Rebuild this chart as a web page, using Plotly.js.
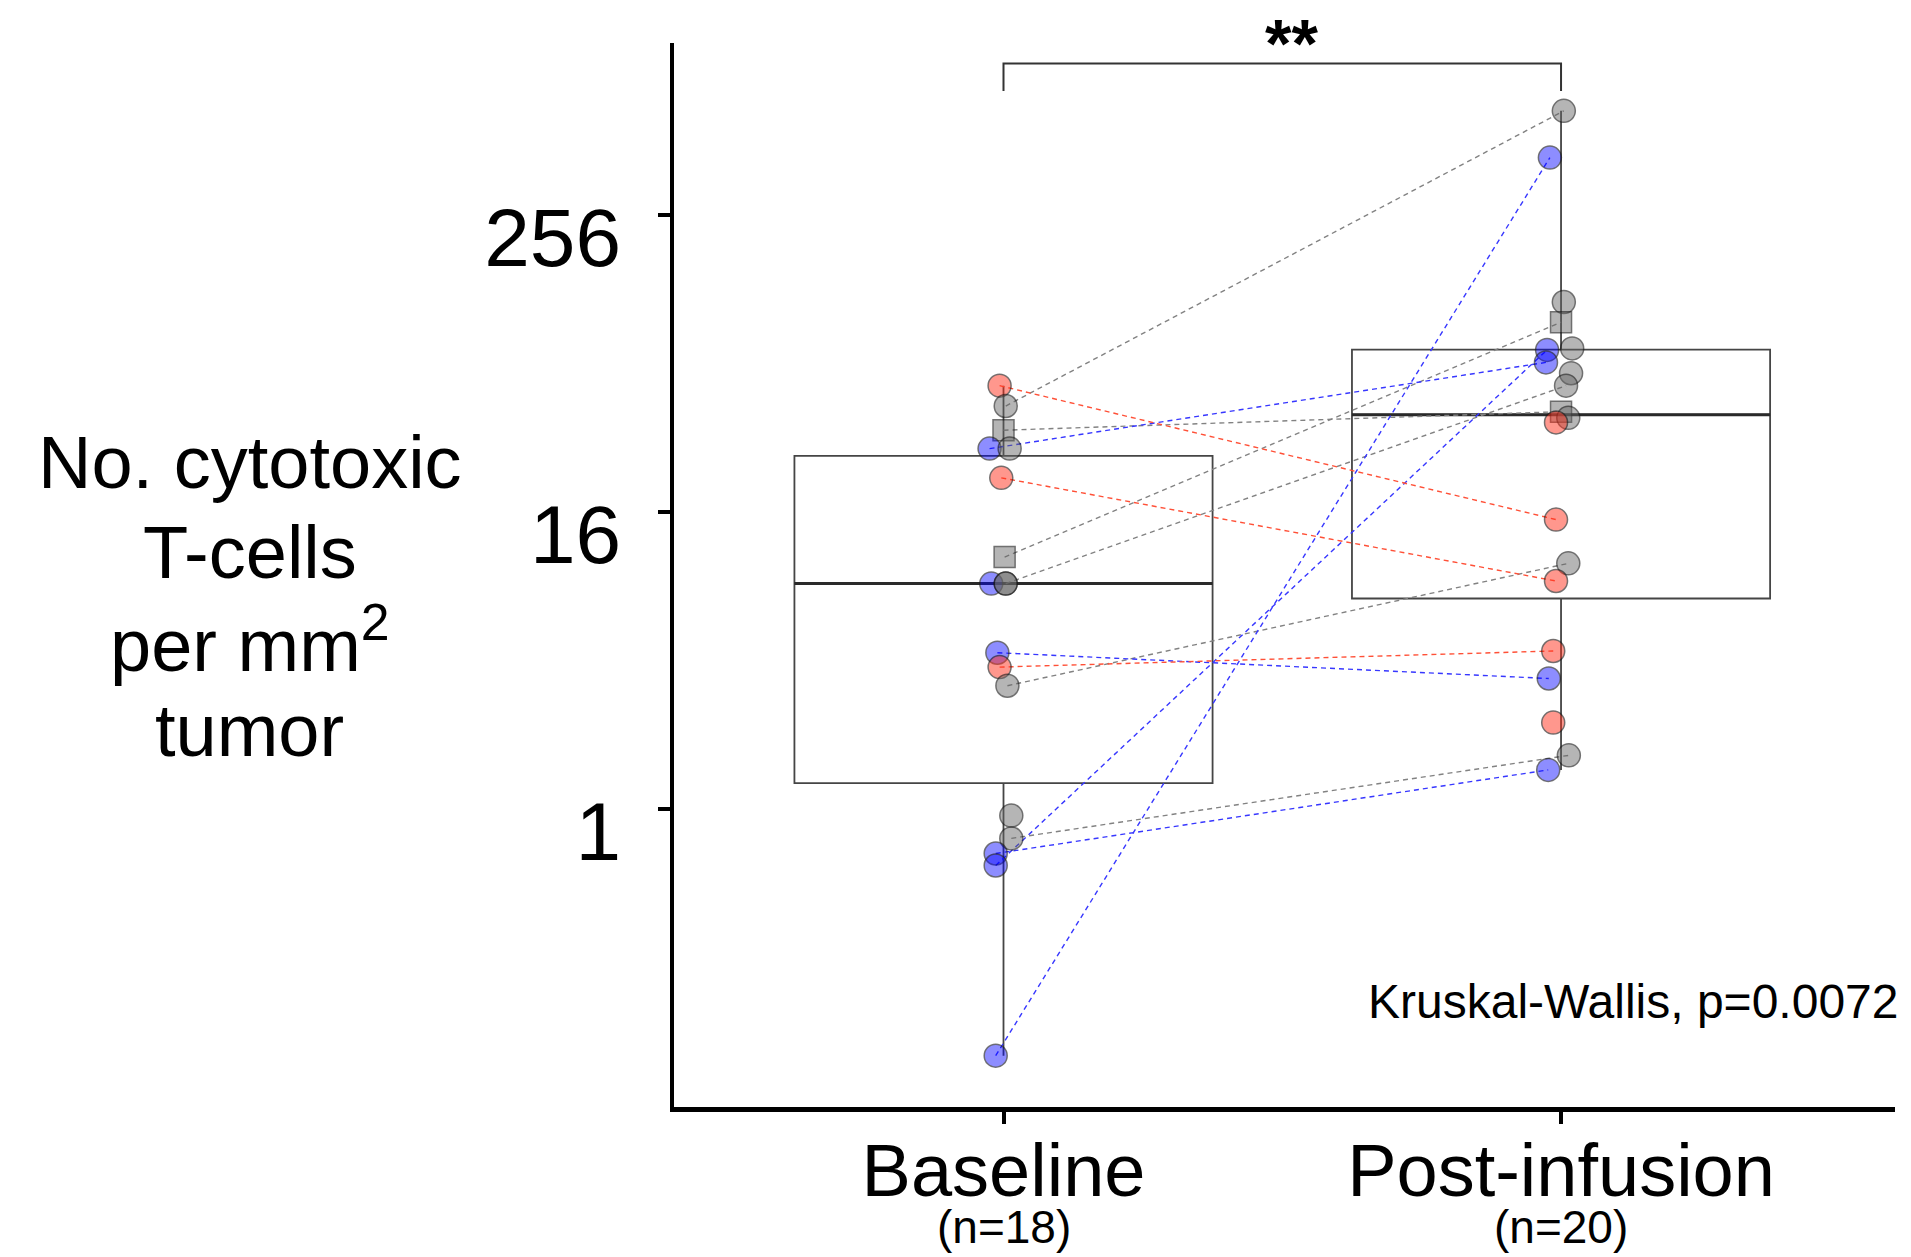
<!DOCTYPE html>
<html><head><meta charset="utf-8">
<script src="https://cdn.plot.ly/plotly-3.0.1.min.js"></script>
<style>html,body{margin:0;padding:0;background:#fff;} #chart{width:1911px;height:1257px;}</style>
</head><body><div id="chart"></div>
<script>
// ---------- data ----------
const groups = ["Baseline", "Post-infusion"];
const groupN = ["(n=18)", "(n=20)"];
const yTickValues = [1, 16, 256];
const yTickLabels = ["1", "16", "256"];
const yTitleLines = ["No. cytotoxic", "T-cells", "per mm<sup>2</sup>", "tumor"];
const significance = "**";
const testLabel = "Kruskal-Wallis, p=0.0072";

const baselineValues = [52, 43, 34.3, 28.9, 28.9, 22, 10.5, 8.2, 8.2, 8.2, 4.3, 3.76, 3.16, 0.94, 0.76, 0.66, 0.59, 0.10];
const baselineColors = ["red","gray","gray","blue","gray","red","gray","blue","gray","gray","blue","red","gray","gray","gray","blue","blue","blue"];
const baselineShapes = ["circle","circle","square","circle","circle","circle","square","circle","circle","circle","circle","circle","circle","circle","circle","circle","circle","circle"];
const baselineJitter = [-0.007, 0.004, 0, -0.025, 0.011, -0.004, 0.002, -0.022, 0.004, 0.004, -0.011, -0.007, 0.007, 0.014, 0.014, -0.014, -0.014, -0.014];

const postValues = [676, 437, 113.5, 94, 73.6, 72.6, 64.6, 58.4, 52, 40.8, 38.5, 36.9, 14.9, 9.9, 8.4, 4.37, 3.38, 2.24, 1.65, 1.44];
const postColors = ["gray","blue","gray","gray","gray","blue","blue","gray","gray","gray","gray","red","red","gray","red","red","blue","red","gray","blue"];
const postShapes = ["circle","circle","circle","square","circle","circle","circle","circle","circle","square","circle","circle","circle","circle","circle","circle","circle","circle","circle","circle"];
const postJitter = [0.005, -0.020, 0.005, 0, 0.020, -0.025, -0.027, 0.018, 0.009, 0, 0.013, -0.009, -0.009, 0.013, -0.009, -0.014, -0.022, -0.014, 0.014, -0.023];

// [baseline index, post-infusion index] of the same patient
const pairs = [[1,0],[0,12],[5,14],[11,15],[2,9],[3,6],[16,5],[17,1],[10,16],[15,19],[6,3],[8,8],[12,13],[14,18]];

// ---------- styles ----------
const FONT = "Liberation Sans, Arial, Helvetica, sans-serif";
const fillCol = {red: "rgba(255,45,25,0.7)", blue: "rgba(0,0,255,0.63)", gray: "rgba(100,100,100,0.68)"};
const lineCol = {red: "rgb(255,80,55)", blue: "rgb(55,55,255)", gray: "rgb(130,130,130)"};
const BOXW = 0.75;

// ---------- stats (ggplot type-7 quantiles on log scale) ----------
function quant(sortedLog, p) {
  const h = (sortedLog.length - 1) * p;
  const lo = Math.floor(h), hi = Math.ceil(h);
  return sortedLog[lo] + (h - lo) * (sortedLog[hi] - sortedLog[lo]);
}
function boxStats(vals) {
  const L = vals.map(v => Math.log10(v)).sort((a, b) => a - b);
  const q1 = quant(L, 0.25), med = quant(L, 0.5), q3 = quant(L, 0.75);
  const iqr = q3 - q1;
  const lowF = Math.min(...L.filter(v => v >= q1 - 1.5 * iqr));
  const upF = Math.max(...L.filter(v => v <= q3 + 1.5 * iqr));
  const p = x => Math.pow(10, x);
  return {q1: p(q1), med: p(med), q3: p(q3), lo: p(lowF), up: p(upF)};
}
const allVals = [baselineValues, postValues];
const stats = allVals.map(boxStats);

const traces = [];
traces.push({
  type: "box", x: [0, 1],
  q1: stats.map(s => s.q1), median: stats.map(s => s.med), q3: stats.map(s => s.q3),
  lowerfence: stats.map(s => s.lo), upperfence: stats.map(s => s.up),
  width: BOXW, whiskerwidth: 0, boxpoints: false,
  fillcolor: "rgba(255,255,255,0)", line: {color: "#454545", width: 1.8},
  hoverinfo: "skip"
});
stats.forEach((s, i) => {
  traces.push({type: "scatter", mode: "lines", x: [i - BOXW / 2, i + BOXW / 2], y: [s.med, s.med],
    line: {color: "#2a2a2a", width: 3}, hoverinfo: "skip"});
});

// pair lines, grouped by colour
["gray", "blue", "red"].forEach(c => {
  const xs = [], ys = [];
  pairs.forEach(([b, p]) => {
    if (baselineColors[b] !== c) return;
    xs.push(0 + baselineJitter[b], 1 + postJitter[p], null);
    ys.push(baselineValues[b], postValues[p], null);
  });
  traces.push({type: "scatter", mode: "lines", x: xs, y: ys, connectgaps: false,
    line: {color: lineCol[c], width: 1.4, dash: "5px,4px"}, hoverinfo: "skip"});
});

// points
const groupPts = [
  {vals: baselineValues, cols: baselineColors, shp: baselineShapes, jit: baselineJitter},
  {vals: postValues, cols: postColors, shp: postShapes, jit: postJitter}
];
groupPts.forEach((g, i) => {
  traces.push({
    type: "scatter", mode: "markers",
    x: g.vals.map((v, k) => i + g.jit[k]), y: g.vals,
    marker: {
      size: g.shp.map(s => s === "square" ? 21 : 23),
      symbol: g.shp,
      color: g.cols.map(c => fillCol[c]),
      line: {color: "rgba(25,25,25,0.85)", width: 1.5}
    },
    hoverinfo: "skip"
  });
});

const annotations = [];
groupN.forEach((t, i) => annotations.push({
  xref: "x", yref: "paper", x: i, y: -0.113, text: t, showarrow: false,
  xanchor: "center", yanchor: "middle", font: {family: FONT, size: 46, color: "#000"}
}));
const titleY = [0.6053, 0.5216, 0.4389, 0.3534];
yTitleLines.forEach((t, i) => annotations.push({
  xref: "paper", yref: "paper", x: -0.3473, y: titleY[i], text: t, showarrow: false,
  xanchor: "center", yanchor: "middle", font: {family: FONT, size: 74, color: "#000"}
}));
annotations.push({xref: "x", yref: "paper", x: 0.5, xshift: 9, y: 1.0, text: "<b>" + significance + "</b>",
  showarrow: false, xanchor: "center", yanchor: "middle", font: {family: FONT, size: 68, color: "#000"}});
annotations.push({xref: "paper", yref: "paper", x: 1, xshift: 5, y: 0.0996, text: testLabel,
  showarrow: false, xanchor: "right", yanchor: "middle", font: {family: FONT, size: 48, color: "#000"}});

const layout = {
  width: 1911, height: 1257,
  margin: {l: 674, r: 16, t: 43, b: 150, pad: 0},
  paper_bgcolor: "#fff", plot_bgcolor: "#fff",
  showlegend: false, hovermode: false,
  xaxis: {
    type: "linear", range: [-0.591, 1.599], tickvals: [0, 1], ticktext: groups,
    showgrid: false, zeroline: false, showline: true, linecolor: "#000", linewidth: 4.5,
    ticks: "outside", ticklen: 12, tickwidth: 4, tickcolor: "#000",
    tickfont: {family: FONT, size: 74, color: "#000"}, ticklabelstandoff: -16
  },
  yaxis: {
    type: "log", range: [-1.208, 3.105], tickvals: yTickValues, ticktext: yTickLabels,
    showgrid: false, zeroline: false, showline: true, linecolor: "#000", linewidth: 4.5,
    ticks: "outside", ticklen: 12, tickwidth: 4, tickcolor: "#000",
    tickfont: {family: FONT, size: 82, color: "#000"}, ticklabelstandoff: 20, ticklabelshift: 22
  },
  shapes: [{
    type: "path", xref: "x", yref: "paper",
    path: "M 0,0.9549 L 0,0.9807 L 1,0.9807 L 1,0.9549",
    line: {color: "#333", width: 2}
  }],
  annotations: annotations
};
Plotly.newPlot("chart", traces, layout, {staticPlot: true, displayModeBar: false});
</script></body></html>
